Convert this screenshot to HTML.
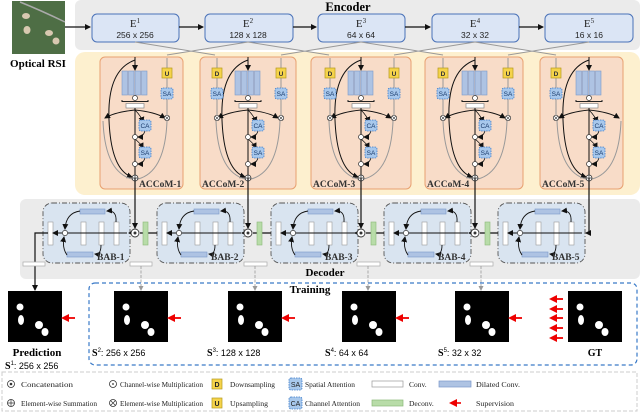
<!DOCTYPE html>
<html><head><meta charset="utf-8"><style>
html,body{margin:0;padding:0;background:#fff;width:640px;height:413px;overflow:hidden}
svg{display:block}
.sr{font-family:"Liberation Serif",serif}
.ss{font-family:"Liberation Sans",sans-serif}
</style></head><body>
<svg width="640" height="413" viewBox="0 0 640 413" xmlns="http://www.w3.org/2000/svg">
<defs>
<marker id="ab" markerUnits="userSpaceOnUse" markerWidth="6" markerHeight="6" refX="5" refY="3" orient="auto"><path d="M0,0L6,3L0,6z" fill="#111"/></marker>
<marker id="ag" markerUnits="userSpaceOnUse" markerWidth="5" markerHeight="5" refX="4" refY="2.5" orient="auto"><path d="M0,0L5,2.5L0,5z" fill="#999"/></marker>
<marker id="ar" markerUnits="userSpaceOnUse" markerWidth="8" markerHeight="8" refX="6" refY="4" orient="auto"><path d="M0,0L8,4L0,8z" fill="#e00"/></marker>
<g id="bars">
<rect x="-13" y="71" width="5.5" height="24" fill="#aec3e3" stroke="#7a98c8" stroke-width="0.6"/>
<rect x="-6.5" y="71" width="5.5" height="24" fill="#aec3e3" stroke="#7a98c8" stroke-width="0.6"/>
<rect x="0" y="71" width="5.5" height="24" fill="#aec3e3" stroke="#7a98c8" stroke-width="0.6"/>
<rect x="6.5" y="71" width="5.5" height="24" fill="#aec3e3" stroke="#7a98c8" stroke-width="0.6"/>
<circle cx="0" cy="98" r="2.5" fill="#fff" stroke="#333" stroke-width="0.7"/>
<path d="M-13,100v1.5h26v-1.5" fill="none" stroke="#222" stroke-width="1"/>
<rect x="-9" y="103.5" width="18" height="4.5" fill="#fff" stroke="#888" stroke-width="0.7"/>
<line x1="0" y1="57" x2="0" y2="70" stroke="#111" stroke-width="1" marker-end="url(#ab)"/>
<line x1="0" y1="108" x2="0" y2="175" stroke="#111" stroke-width="1"/>
<path d="M0,110 Q-20,112 -30,118" fill="none" stroke="#111" stroke-width="0.9" marker-end="url(#ab)"/>
<path d="M0,110 Q20,112 30,118" fill="none" stroke="#111" stroke-width="0.9" marker-end="url(#ab)"/>
<path d="M0,110 Q6,116 8,122" fill="none" stroke="#111" stroke-width="0.8" marker-end="url(#ab)"/>
<path d="M10,131 Q8,137 3,137" fill="none" stroke="#111" stroke-width="0.8" marker-end="url(#ab)"/>
<path d="M0,139 Q6,144 8,148" fill="none" stroke="#111" stroke-width="0.8" marker-end="url(#ab)"/>
<path d="M10,158 Q8,164 3,164" fill="none" stroke="#111" stroke-width="0.8" marker-end="url(#ab)"/>
<path d="M0,60 Q-28,70 -26,120 Q-24,170 -3,177" fill="none" stroke="#111" stroke-width="1" marker-end="url(#ab)"/>
<path d="M-32,121 Q-30,172 -3,179" fill="none" stroke="#999" stroke-width="1"/>
<path d="M32,121 Q30,172 3,179" fill="none" stroke="#999" stroke-width="1"/>
<circle cx="0" cy="137" r="2.5" fill="#fff" stroke="#333" stroke-width="0.7"/>
<circle cx="0" cy="164" r="2.5" fill="#fff" stroke="#333" stroke-width="0.7"/>
<circle cx="0" cy="178" r="3" fill="#fff" stroke="#333" stroke-width="0.8"/>
<path d="M-3,178h6M0,175v6" stroke="#333" stroke-width="0.7"/>
<rect x="4" y="120" width="12" height="11" rx="2" fill="#a8c8ec" stroke="#3a7ac8" stroke-width="0.8" stroke-dasharray="1.5 1"/>
<rect x="4" y="147" width="12" height="11" rx="2" fill="#a8c8ec" stroke="#3a7ac8" stroke-width="0.8" stroke-dasharray="1.5 1"/>
<line x1="0" y1="178" x2="0" y2="191" stroke="#111" stroke-width="1.2"/>
</g>
<g id="side">
<line x1="0" y1="58" x2="0" y2="115" stroke="#999" stroke-width="1"/>
<rect x="-5" y="68" width="10" height="10" fill="#f5d34a" stroke="#b59a20" stroke-width="0.7"/>
<rect x="-6" y="88" width="12" height="11" rx="2" fill="#a8c8ec" stroke="#3a7ac8" stroke-width="0.8" stroke-dasharray="1.5 1"/>
<circle cx="0" cy="118" r="2.7" fill="#fff" stroke="#333" stroke-width="0.7"/>
<path d="M-1.9,116.1l3.8,3.8M1.9,116.1l-3.8,3.8" stroke="#333" stroke-width="0.6"/>
</g>
<g id="bab">
<rect x="0" y="203" width="87" height="60" rx="9" fill="#d9e4f0" stroke="#555" stroke-width="0.9" stroke-dasharray="5 2 1 2"/>
<rect x="5" y="222" width="5" height="23" fill="#fff" stroke="#999" stroke-width="0.6"/>
<rect x="38" y="222" width="5" height="23" fill="#fff" stroke="#999" stroke-width="0.6"/>
<rect x="56" y="222" width="5" height="23" fill="#fff" stroke="#999" stroke-width="0.6"/>
<rect x="71" y="222" width="5" height="23" fill="#fff" stroke="#999" stroke-width="0.6"/>
<rect x="37" y="209" width="25" height="5" fill="#aec3e3" stroke="#7a98c8" stroke-width="0.6"/>
<rect x="24" y="252" width="26" height="5" fill="#aec3e3" stroke="#7a98c8" stroke-width="0.6"/>
<line x1="84" y1="233" x2="10" y2="233" stroke="#111" stroke-width="1" marker-end="url(#ab)"/>
<circle cx="22" cy="233" r="2.6" fill="#fff" stroke="#333" stroke-width="0.7"/>
<path d="M73,222 Q74,210 64,211" fill="none" stroke="#111" stroke-width="0.9" marker-end="url(#ab)"/>
<path d="M37,211 Q23,213 22,229" fill="none" stroke="#111" stroke-width="0.9" marker-end="url(#ab)"/>
<path d="M58,245 Q58,255 52,254" fill="none" stroke="#111" stroke-width="0.9" marker-end="url(#ab)"/>
<path d="M24,255 Q19,248 21,237" fill="none" stroke="#111" stroke-width="0.9" marker-end="url(#ab)"/>
</g>
<g id="cat"><circle cx="0" cy="233" r="4" fill="#fff" stroke="#333" stroke-width="0.9"/><circle cx="0" cy="233" r="1.5" fill="#333"/></g>
<g id="mask"><rect x="0" y="0" width="54" height="51" fill="#000"/>
<ellipse cx="12" cy="16" rx="3.5" ry="3.5" fill="#fff"/><ellipse cx="13" cy="29" rx="3" ry="5" fill="#fff"/><ellipse cx="31" cy="34" rx="4" ry="4" fill="#fff"/><ellipse cx="37" cy="41" rx="3.5" ry="4" fill="#fff"/></g>
</defs>

<rect x="75" y="0" width="565" height="50" rx="6" fill="#ebebeb"/>
<rect x="75" y="52" width="565" height="143" rx="10" fill="#fdf0cf"/>
<rect x="20" y="199" width="620" height="80" rx="6" fill="#ebebeb"/>

<rect x="12" y="1" width="53" height="53" fill="#4e6e45"/>
<path d="M20,2 Q40,10 65,22" stroke="#aaa" stroke-width="1.5" fill="none"/>
<ellipse cx="26" cy="16" rx="4" ry="3" fill="#d8c8b0"/><ellipse cx="27" cy="30" rx="3.5" ry="4" fill="#d8c8b0"/><ellipse cx="49" cy="33" rx="4" ry="3" fill="#d8c8b0"/><ellipse cx="56" cy="41" rx="3.5" ry="3.5" fill="#d8c8b0"/>
<text x="38" y="67" class="sr" font-size="11" font-weight="bold" text-anchor="middle">Optical RSI</text>
<line x1="65" y1="27" x2="90" y2="27" stroke="#111" stroke-width="1.2" marker-end="url(#ab)"/>

<text x="348" y="11" class="sr" font-size="12.5" font-weight="bold" text-anchor="middle">Encoder</text>

<g stroke="#4a72b8" stroke-width="1" fill="#dbe5f5">
<rect x="92" y="14" width="87" height="28" rx="5"/>
<rect x="205" y="14" width="88" height="28" rx="5"/>
<rect x="318" y="14" width="87" height="28" rx="5"/>
<rect x="432" y="14" width="87" height="28" rx="5"/>
<rect x="545" y="14" width="88" height="28" rx="5"/>
</g>
<g stroke="#111" stroke-width="1.2">
<line x1="179" y1="27" x2="203" y2="27" marker-end="url(#ab)"/>
<line x1="293" y1="27" x2="316" y2="27" marker-end="url(#ab)"/>
<line x1="405" y1="27" x2="430" y2="27" marker-end="url(#ab)"/>
<line x1="519" y1="27" x2="543" y2="27" marker-end="url(#ab)"/>
</g>
<g class="sr" font-size="11" text-anchor="middle" fill="#222">
<text x="135" y="27">E<tspan font-size="7" dy="-4">1</tspan></text>
<text x="248" y="27">E<tspan font-size="7" dy="-4">2</tspan></text>
<text x="361" y="27">E<tspan font-size="7" dy="-4">3</tspan></text>
<text x="475" y="27">E<tspan font-size="7" dy="-4">4</tspan></text>
<text x="589" y="27">E<tspan font-size="7" dy="-4">5</tspan></text>
</g>
<g class="ss" font-size="8.5" text-anchor="middle" fill="#222">
<text x="135" y="38">256 x 256</text><text x="248" y="38">128 x 128</text><text x="361" y="38">64 x 64</text><text x="475" y="38">32 x 32</text><text x="589" y="38">16 x 16</text>
</g>
<g stroke="#999" stroke-width="1" fill="none">
<path d="M135,42 L215,55"/><path d="M248,42 L167,55"/><path d="M248,42 L329,55"/><path d="M361,42 L281,55"/>
<path d="M361,42 L443,55"/><path d="M475,42 L394,55"/><path d="M475,42 L556,55"/><path d="M589,42 L508,55"/>
</g>

<g fill="#f8dcc8" stroke="#e8a070" stroke-width="1">
<rect x="100" y="57" width="83" height="132" rx="5"/>
<rect x="200" y="57" width="96" height="132" rx="5"/>
<rect x="311" y="57" width="100" height="132" rx="5"/>
<rect x="425" y="57" width="98" height="132" rx="5"/>
<rect x="540" y="57" width="83" height="132" rx="5"/>
</g>
<use href="#bars" x="135"/><use href="#bars" x="248"/><use href="#bars" x="361"/><use href="#bars" x="475"/><use href="#bars" x="589"/>
<use href="#side" x="167"/>
<use href="#side" x="217"/><use href="#side" x="281"/>
<use href="#side" x="330"/><use href="#side" x="394"/>
<use href="#side" x="443"/><use href="#side" x="508"/>
<use href="#side" x="556"/>
<g class="ss" font-size="6.5" font-weight="bold" text-anchor="middle" fill="#333">
<text x="167" y="76">U</text><text x="217" y="76">D</text><text x="281" y="76">U</text><text x="330" y="76">D</text><text x="394" y="76">U</text><text x="443" y="76">D</text><text x="508" y="76">U</text><text x="556" y="76">D</text>
</g>
<g class="ss" font-size="6.5" text-anchor="middle" fill="#1a3a6a">
<text x="167" y="96">SA</text><text x="217" y="96">SA</text><text x="281" y="96">SA</text><text x="330" y="96">SA</text><text x="394" y="96">SA</text><text x="443" y="96">SA</text><text x="508" y="96">SA</text><text x="556" y="96">SA</text>
<text x="145" y="128">CA</text><text x="258" y="128">CA</text><text x="371" y="128">CA</text><text x="485" y="128">CA</text><text x="599" y="128">CA</text>
<text x="145" y="155">SA</text><text x="258" y="155">SA</text><text x="371" y="155">SA</text><text x="485" y="155">SA</text><text x="599" y="155">SA</text>
</g>
<g class="sr" font-size="9.5" font-weight="bold" fill="#333">
<text x="139" y="187">ACCoM-1</text><text x="202" y="187">ACCoM-2</text><text x="313" y="187">ACCoM-3</text><text x="427" y="187">ACCoM-4</text><text x="542" y="187">ACCoM-5</text>
</g>

<use href="#bab" x="43"/><use href="#bab" x="157"/><use href="#bab" x="271"/><use href="#bab" x="384"/><use href="#bab" x="498"/>
<g class="sr" font-size="9.5" font-weight="bold" fill="#333">
<text x="97" y="260">BAB-1</text><text x="211" y="260">BAB-2</text><text x="325" y="260">BAB-3</text><text x="438" y="260">BAB-4</text><text x="552" y="260">BAB-5</text>
</g>
<text x="325" y="276" class="sr" font-size="11" font-weight="bold" text-anchor="middle">Decoder</text>
<g stroke="#111" stroke-width="1.2" fill="none">
<line x1="135" y1="191" x2="135" y2="228" marker-end="url(#ab)"/>
<line x1="248" y1="191" x2="248" y2="228" marker-end="url(#ab)"/>
<line x1="361" y1="191" x2="361" y2="228" marker-end="url(#ab)"/>
<line x1="475" y1="191" x2="475" y2="228" marker-end="url(#ab)"/>
<path d="M589,191 V233 H586" marker-end="url(#ab)"/>
<line x1="157" y1="233" x2="140" y2="233"/><line x1="271" y1="233" x2="253" y2="233"/><line x1="384" y1="233" x2="366" y2="233"/><line x1="498" y1="233" x2="480" y2="233"/>
<line x1="131" y1="233" x2="129" y2="233" marker-end="url(#ab)"/>
<line x1="244" y1="233" x2="242" y2="233" marker-end="url(#ab)"/>
<line x1="357" y1="233" x2="355" y2="233" marker-end="url(#ab)"/>
<line x1="471" y1="233" x2="469" y2="233" marker-end="url(#ab)"/>
<path d="M48,233 H35 V290" marker-end="url(#ab)"/>
</g>
<use href="#cat" x="135"/><use href="#cat" x="248"/><use href="#cat" x="361"/><use href="#cat" x="475"/>
<g fill="#b8dca8" stroke="#8ab878" stroke-width="0.6">
<rect x="143" y="222" width="5" height="23"/><rect x="257" y="222" width="5" height="23"/><rect x="371" y="222" width="5" height="23"/><rect x="485" y="222" width="5" height="23"/>
</g>
<g fill="#fff" stroke="#aaa" stroke-width="0.7">
<rect x="23" y="262" width="22" height="4"/><rect x="130" y="262" width="22" height="4"/><rect x="244" y="262" width="23" height="4"/><rect x="357" y="262" width="23" height="4"/><rect x="470" y="262" width="23" height="4"/>
</g>
<g stroke="#999" stroke-width="0.8" stroke-dasharray="3 1.5" fill="none">
<line x1="141" y1="266" x2="141" y2="290" marker-end="url(#ag)"/>
<line x1="255" y1="266" x2="255" y2="290" marker-end="url(#ag)"/>
<line x1="368" y1="266" x2="368" y2="290" marker-end="url(#ag)"/>
<line x1="481" y1="266" x2="481" y2="290" marker-end="url(#ag)"/>
</g>

<rect x="89" y="283" width="548" height="82" rx="6" fill="none" stroke="#3a7ac8" stroke-width="1.2" stroke-dasharray="4 3"/>
<text x="310" y="293" class="sr" font-size="11" font-weight="bold" text-anchor="middle">Training</text>
<use href="#mask" x="8" y="291"/><use href="#mask" x="114" y="291"/><use href="#mask" x="228" y="291"/><use href="#mask" x="342" y="291"/><use href="#mask" x="455" y="291"/><use href="#mask" x="568" y="291"/>
<g stroke="#e00" stroke-width="1.8">
<line x1="75" y1="318" x2="63" y2="318" marker-end="url(#ar)"/>
<line x1="181" y1="318" x2="169" y2="318" marker-end="url(#ar)"/>
<line x1="295" y1="318" x2="283" y2="318" marker-end="url(#ar)"/>
<line x1="409" y1="318" x2="397" y2="318" marker-end="url(#ar)"/>
<line x1="522" y1="318" x2="510" y2="318" marker-end="url(#ar)"/>
<line x1="563" y1="299" x2="551" y2="299" marker-end="url(#ar)"/>
<line x1="563" y1="309" x2="551" y2="309" marker-end="url(#ar)"/>
<line x1="563" y1="318" x2="551" y2="318" marker-end="url(#ar)"/>
<line x1="563" y1="328" x2="551" y2="328" marker-end="url(#ar)"/>
<line x1="563" y1="338" x2="551" y2="338" marker-end="url(#ar)"/>
</g>
<text x="37" y="356" class="sr" font-size="11" font-weight="bold" text-anchor="middle">Prediction</text>
<text x="5" y="369" class="ss" font-size="9"><tspan class="sr" font-weight="bold" font-size="10">S</tspan><tspan font-size="6" dy="-4">1</tspan><tspan dy="4">: 256 x 256</tspan></text>
<g class="ss" font-size="9">
<text x="92" y="356"><tspan class="sr" font-weight="bold" font-size="10">S</tspan><tspan font-size="6" dy="-4">2</tspan><tspan dy="4">: 256 x 256</tspan></text>
<text x="207" y="356"><tspan class="sr" font-weight="bold" font-size="10">S</tspan><tspan font-size="6" dy="-4">3</tspan><tspan dy="4">: 128 x 128</tspan></text>
<text x="325" y="356"><tspan class="sr" font-weight="bold" font-size="10">S</tspan><tspan font-size="6" dy="-4">4</tspan><tspan dy="4">: 64 x 64</tspan></text>
<text x="438" y="356"><tspan class="sr" font-weight="bold" font-size="10">S</tspan><tspan font-size="6" dy="-4">5</tspan><tspan dy="4">: 32 x 32</tspan></text>
</g>
<text x="595" y="356" class="sr" font-size="10" font-weight="bold" text-anchor="middle">GT</text>

<rect x="2" y="372" width="635" height="39" fill="none" stroke="#ccc" stroke-width="1" stroke-dasharray="4 2"/>
<g class="sr" font-size="7.5" fill="#222">
<circle cx="11" cy="384" r="3.5" fill="none" stroke="#333" stroke-width="0.8"/><circle cx="11" cy="384" r="1.3" fill="#333"/>
<text x="21" y="387" textLength="52" lengthAdjust="spacingAndGlyphs">Concatenation</text>
<circle cx="11" cy="403" r="3.5" fill="none" stroke="#333" stroke-width="0.8"/><path d="M7.5,403h7M11,399.5v7" stroke="#333" stroke-width="0.7"/>
<text x="21" y="406" textLength="76" lengthAdjust="spacingAndGlyphs">Element-wise Summation</text>
<circle cx="113" cy="384" r="3.5" fill="none" stroke="#333" stroke-width="0.8"/><circle cx="113" cy="384" r="0.9" fill="#333"/>
<text x="120" y="387" textLength="83" lengthAdjust="spacingAndGlyphs">Channel-wise Multiplication</text>
<circle cx="113" cy="403" r="3.5" fill="none" stroke="#333" stroke-width="0.8"/><path d="M110.5,400.5l5,5M115.5,400.5l-5,5" stroke="#333" stroke-width="0.7"/>
<text x="120" y="406" textLength="83" lengthAdjust="spacingAndGlyphs">Element-wise Multiplication</text>
<rect x="212" y="379" width="10" height="10" fill="#f5d34a" stroke="#b59a20" stroke-width="0.7"/>
<text x="217" y="387" class="ss" font-size="7" font-weight="bold" text-anchor="middle">D</text>
<text x="230" y="387" textLength="45" lengthAdjust="spacingAndGlyphs">Downsampling</text>
<rect x="212" y="398" width="10" height="10" fill="#f5d34a" stroke="#b59a20" stroke-width="0.7"/>
<text x="217" y="406" class="ss" font-size="7" font-weight="bold" text-anchor="middle">U</text>
<text x="230" y="406" textLength="38" lengthAdjust="spacingAndGlyphs">Upsampling</text>
<rect x="289" y="378" width="13" height="12" rx="2" fill="#a8c8ec" stroke="#3a7ac8" stroke-width="0.8" stroke-dasharray="1.5 1"/>
<text x="295.5" y="387" class="ss" font-size="7" text-anchor="middle">SA</text>
<text x="305" y="387" textLength="50" lengthAdjust="spacingAndGlyphs">Spatial Attention</text>
<rect x="289" y="397" width="13" height="12" rx="2" fill="#a8c8ec" stroke="#3a7ac8" stroke-width="0.8" stroke-dasharray="1.5 1"/>
<text x="295.5" y="406" class="ss" font-size="7" text-anchor="middle">CA</text>
<text x="305" y="406" textLength="55" lengthAdjust="spacingAndGlyphs">Channel Attention</text>
<rect x="372" y="381" width="31" height="6" fill="#fff" stroke="#999" stroke-width="0.7"/>
<text x="409" y="387">Conv.</text>
<rect x="372" y="400" width="31" height="6" fill="#b8dca8" stroke="#8ab878" stroke-width="0.7"/>
<text x="409" y="406">Deconv.</text>
<rect x="439" y="381" width="32" height="6" fill="#aec3e3" stroke="#7a98c8" stroke-width="0.7"/>
<text x="476" y="387" textLength="44" lengthAdjust="spacingAndGlyphs">Dilated Conv.</text>
<line x1="461" y1="403" x2="451" y2="403" stroke="#e00" stroke-width="1.6" marker-end="url(#ar)"/>
<text x="476" y="406" textLength="38" lengthAdjust="spacingAndGlyphs">Supervision</text>
</g>
</svg>
</body></html>
